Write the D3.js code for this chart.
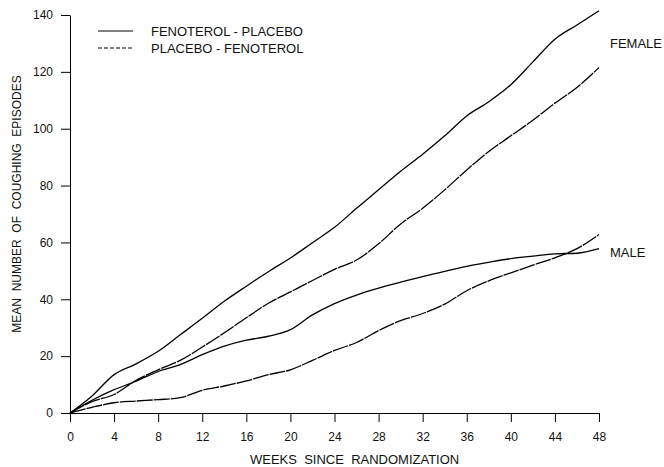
<!DOCTYPE html>
<html>
<head>
<meta charset="utf-8">
<script src="https://cdn.jsdelivr.net/npm/d3@7"></script>
<style>
  body { margin: 0; background: #fff; }
  svg { font-family: "Liberation Sans", Arial, sans-serif; }
  .axis path, .axis line { stroke: #000; stroke-width: 1; }
  .axis text { font-size: 12px; fill: #111; }
  .lbl { font-size: 13px; fill: #111; white-space: pre; }
</style>
</head>
<body>
<div id="chart"></div>
<script>
// chart size
const WIDTH = 664;
const HEIGHT = 467;
const margin = { top: 15, right: 65, bottom: 54, left: 70 };
const innerWidth = WIDTH - margin.left - margin.right;
const innerHeight = HEIGHT - margin.top - margin.bottom;

// data (every 2 weeks)
const weeks = [0,2,4,6,8,10,12,14,16,18,20,22,24,26,28,30,32,34,36,38,40,42,44,46,48];
const femaleFenPla = [0,6,13.5,17.3,21.7,27.5,33.3,39.3,44.6,49.7,54.5,59.9,65.3,72,78.5,85,91,97.5,104.5,109.5,115.5,123.5,131.5,136.5,141.5];
const femalePlaFen = [0,4,6.5,11.5,15.2,18.5,23.2,28.2,33.5,38.6,42.6,46.6,50.5,53.8,59.5,66.5,72,78.5,85.5,92,97.5,103,109,114.5,121.5];
const maleFenPla = [0,4.5,8.2,11.2,14.6,17,20.5,23.5,25.6,27,29.3,34.5,38.5,41.5,43.9,46,48,49.8,51.6,53,54.3,55.2,56,56.2,57.8];
const malePlaFen = [0,2,3.6,4.2,4.7,5.4,8,9.5,11.3,13.5,15.2,18.5,22,24.8,29,32.5,35,38.3,43,46.5,49.3,52,54.6,57.8,62.8];

const xTicks = d3.range(0, 49, 4);
const yTicks = d3.range(0, 141, 20);

const legendItems = [
  { label: "FENOTEROL - PLACEBO", dash: null },
  { label: "PLACEBO - FENOTEROL", dash: "4,2" }
];

// the dashed curves look almost solid in the original
const series = [
  { values: femaleFenPla, dash: null },
  { values: femalePlaFen, dash: "16,1" },
  { values: maleFenPla, dash: null },
  { values: malePlaFen, dash: "16,1" }
];

const svg = d3.select("#chart")
  .append("svg")
  .attr("width", WIDTH)
  .attr("height", HEIGHT);

const g = svg.append("g")
  .attr("transform", `translate(${margin.left},${margin.top})`);

const xScale = d3.scaleLinear().domain([0, 48]).range([0, innerWidth]);
const yScale = d3.scaleLinear().domain([0, 140]).range([innerHeight, 0]);

// axes
g.append("g")
  .attr("class", "axis")
  .attr("transform", `translate(0,${innerHeight})`)
  .call(d3.axisBottom(xScale).tickValues(xTicks).tickSize(9).tickSizeOuter(0).tickPadding(10));
g.append("g")
  .attr("class", "axis")
  .call(d3.axisLeft(yScale).tickValues(yTicks).tickSize(9).tickSizeOuter(0).tickPadding(8));

// lines
const line = d3.line()
  .x((d, i) => xScale(weeks[i]))
  .y(d => yScale(d))
  .curve(d3.curveMonotoneX);

g.selectAll(".series")
  .data(series)
  .enter().append("path")
  .attr("class", "series")
  .attr("d", d => line(d.values))
  .attr("fill", "none")
  .attr("stroke", "#000")
  .attr("stroke-width", 1.3)
  .attr("stroke-dasharray", d => d.dash);

// legend
const legend = svg.append("g").attr("transform", "translate(98,31)");
legendItems.forEach((d, i) => {
  legend.append("line")
    .attr("x1", 0).attr("x2", 35)
    .attr("y1", i * 17).attr("y2", i * 17)
    .attr("stroke", "#000")
    .attr("stroke-width", 1.2)
    .attr("stroke-dasharray", d.dash);
  legend.append("text")
    .attr("class", "lbl")
    .attr("x", 53).attr("y", i * 17 + 4.5)
    .text(d.label);
});

// end labels
svg.append("text").attr("class", "lbl").attr("x", 610).attr("y", 48).text("FEMALE");
svg.append("text").attr("class", "lbl").attr("x", 610).attr("y", 257).text("MALE");

// axis titles
svg.append("text")
  .attr("class", "lbl")
  .attr("x", 250)
  .attr("y", 464)
  .text("WEEKS  SINCE  RANDOMIZATION");
svg.append("text")
  .attr("class", "lbl")
  .attr("transform", "translate(21,204) rotate(-90)")
  .attr("text-anchor", "middle")
  .style("font-size", "12px")
  .text("MEAN  NUMBER  OF  COUGHING  EPISODES");
</script>
</body>
</html>
